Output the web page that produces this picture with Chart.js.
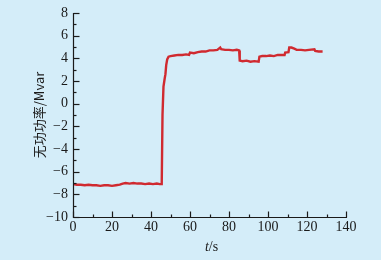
<!DOCTYPE html>
<html>
<head>
<meta charset="utf-8">
<script src="https://cdn.jsdelivr.net/npm/chart.js@4.4.0/dist/chart.umd.min.js"></script>
<style>
  html, body { margin: 0; padding: 0; background: #d4edf9; }
  #wrap { width: 381px; height: 260px; position: relative; }
</style>
</head>
<body>
<div id="wrap"><canvas id="c"></canvas></div>
<script>
// time (s) and reactive power (Mvar)
const times = [0, 2, 4, 6, 8, 10, 12, 14, 16, 18, 20, 22, 24, 25.5, 27, 29, 31, 33, 35, 37, 39, 41, 43, 44.5, 45.5,
  45.9, 46.4, 47.0, 47.4, 47.8, 48.3, 49.0, 50, 52, 54, 56, 58, 59.5, 60, 62, 64, 66, 68, 70, 72, 74, 75.5, 76,
  78, 80, 82, 84, 85.2, 85.5, 87, 89, 91, 93, 95.2, 95.6, 97, 99, 101, 103, 105, 108.5, 108.8, 110.5, 110.9,
  112, 113.5, 114.7, 117, 119, 121, 123.8, 124.2, 126, 128];
const power = [-7.1, -7.15, -7.15, -7.2, -7.15, -7.2, -7.2, -7.25, -7.2, -7.2, -7.25, -7.2, -7.15, -7.05, -7.0, -7.05, -7.0, -7.05, -7.05, -7.1, -7.05, -7.1, -7.05, -7.1, -7.1,
  -1.0, 1.5, 2.2, 2.6, 3.4, 3.9, 4.15, 4.2, 4.25, 4.3, 4.3, 4.35, 4.3, 4.5, 4.45, 4.55, 4.6, 4.6, 4.7, 4.7, 4.75, 4.95, 4.8,
  4.75, 4.75, 4.7, 4.75, 4.7, 3.8, 3.75, 3.8, 3.7, 3.75, 3.7, 4.15, 4.2, 4.2, 4.25, 4.2, 4.3, 4.3, 4.5, 4.55, 4.95,
  4.95, 4.85, 4.75, 4.75, 4.7, 4.75, 4.8, 4.65, 4.6, 4.6];
const xTicks = [0, 20, 40, 60, 80, 100, 120, 140];
const yTicks = [-10, -8, -6, -4, -2, 0, 2, 4, 6, 8];

const ink = '#1a1a1a';
const serif = '"Liberation Serif", serif';

// axis lines, inward ticks (major + minor), tick labels and axis titles
const decor = {
  id: 'decor',
  afterDraw(chart) {
    const ctx = chart.ctx;
    const xs = chart.scales.x, ys = chart.scales.y;
    const a = chart.chartArea;
    const L = Math.round(a.left) + 0.5, B = Math.round(a.bottom) + 0.5;
    ctx.save();
    ctx.strokeStyle = ink;
    ctx.lineWidth = 1.2;
    ctx.beginPath();
    ctx.moveTo(L, Math.round(a.top));
    ctx.lineTo(L, B);
    ctx.lineTo(Math.round(a.right) + 1, B);
    ctx.stroke();
    for (let v = xs.min; v <= xs.max; v += 10) {
      const px = Math.round(xs.getPixelForValue(v)) + 0.5;
      const len = v % 20 === 0 ? 6 : 3;
      ctx.beginPath(); ctx.moveTo(px, B); ctx.lineTo(px, B - len); ctx.stroke();
    }
    for (let v = ys.min; v <= ys.max; v += 1) {
      const py = Math.round(ys.getPixelForValue(v)) + 0.5;
      const len = v % 2 === 0 ? 6 : 3;
      ctx.beginPath(); ctx.moveTo(L, py); ctx.lineTo(L + len, py); ctx.stroke();
    }
    ctx.fillStyle = ink;
    ctx.font = '14px ' + serif;
    // tick labels
    ctx.textAlign = 'center';
    ctx.textBaseline = 'middle';
    xTicks.forEach(v => ctx.fillText(String(v), xs.getPixelForValue(v), 227));
    ctx.textAlign = 'right';
    yTicks.forEach(v => ctx.fillText(String(v).replace('-', '\u2212'), 68, ys.getPixelForValue(v)));
    // x title: italic t + /s
    const cx = (a.left + a.right) / 2 + 2;
    ctx.font = 'italic 14px ' + serif;
    const w1 = ctx.measureText('t').width;
    ctx.font = '14px ' + serif;
    const w2 = ctx.measureText('/s').width;
    const x0 = cx - (w1 + w2) / 2;
    ctx.textAlign = 'left';
    ctx.font = 'italic 14px ' + serif;
    ctx.fillText('t', x0, 247);
    ctx.font = '14px ' + serif;
    ctx.fillText('/s', x0 + w1, 247);
    // y title
    ctx.translate(39, (a.top + a.bottom) / 2);
    ctx.rotate(-Math.PI / 2);
    ctx.textAlign = 'center';
    ctx.font = '13px "Noto Sans CJK SC", ' + serif;
    ctx.fillText('无功功率/Mvar', 0, 0);
    ctx.restore();
  }
};

new Chart(document.getElementById('c'), {
  type: 'scatter',
  data: {
    datasets: [{
      data: times.map((t, i) => ({ x: t, y: power[i] })),
      showLine: true,
      borderColor: '#d02a30',
      borderWidth: 2.4,
      pointRadius: 0,
      tension: 0,
    }],
  },
  options: {
    responsive: true,
    maintainAspectRatio: false,
    animation: false,
    layout: { padding: { top: 13, right: 35, left: 0, bottom: 0 } },
    plugins: { legend: { display: false }, tooltip: { enabled: false } },
    scales: {
      x: {
        type: 'linear',
        min: 0, max: 140,
        afterBuildTicks: s => { s.ticks = xTicks.map(v => ({ value: v })); },
        afterFit: s => { s.height = 43; },
        grid: { display: false },
        border: { display: false },
        ticks: { display: false },
      },
      y: {
        min: -10, max: 8,
        afterBuildTicks: s => { s.ticks = yTicks.map(v => ({ value: v })); },
        afterFit: s => { s.width = 73; },
        grid: { display: false },
        border: { display: false },
        ticks: { display: false },
      },
    },
  },
  plugins: [decor],
});
</script>
</body>
</html>
